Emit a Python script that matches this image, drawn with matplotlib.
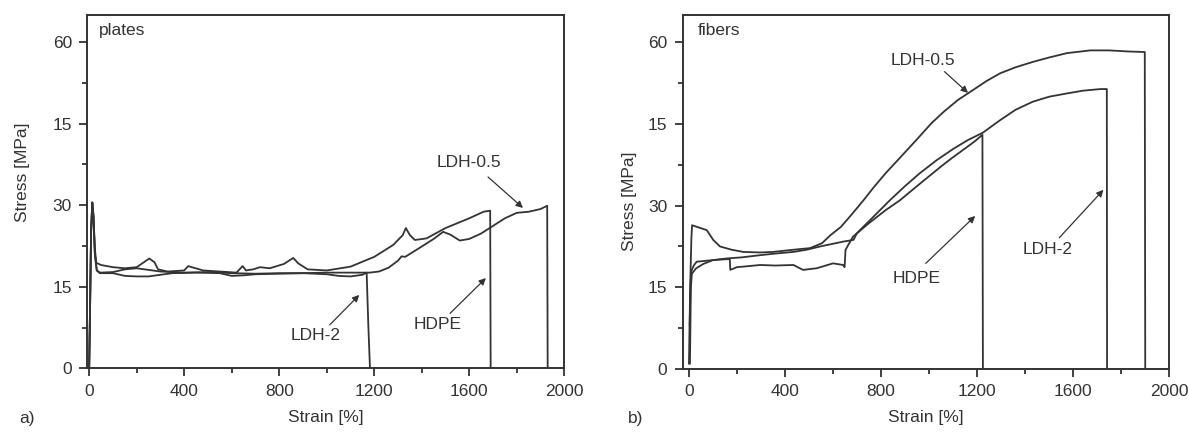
import matplotlib
matplotlib.use("Agg")
import matplotlib.pyplot as plt
from matplotlib.ticker import MultipleLocator, FixedLocator, FixedFormatter

plt.rcParams["font.family"] = ["Liberation Sans", "DejaVu Sans"]

INK = "#333333"
FS = 12.5

# y tick labels exactly as printed in the figure
y_ticks = [0, 15, 30, 45, 60]
y_tick_labels = ["0", "15", "30", "15", "60"]
x_ticks = [0, 400, 800, 1200, 1600, 2000]

# ---- a) plates ----
plates_hdpe_x = [0, 4, 8, 13, 18, 24, 30, 50, 100, 150, 200, 230, 253, 275, 290, 330, 400, 417, 440,
                 480, 550, 620, 646, 660, 690, 719, 760, 820, 859, 880, 920, 1000, 1100, 1200, 1280,
                 1320, 1333, 1350, 1371, 1420, 1500, 1600, 1660, 1688, 1690]
plates_hdpe_y = [0, 12, 25, 30.5, 28, 22, 19.4, 19.0, 18.6, 18.4, 18.6, 19.5, 20.2, 19.5, 18.2, 17.8,
                 18.0, 18.8, 18.5, 18.0, 17.8, 17.6, 18.8, 18.0, 18.2, 18.6, 18.4, 19.2, 20.3, 19.3,
                 18.2, 18.0, 18.7, 20.5, 22.7, 24.5, 25.8, 24.5, 23.6, 23.9, 25.8, 27.6, 28.8, 29.0, 0]

plates_ldh2_x = [0, 4, 8, 13, 18, 24, 32, 45, 100, 150, 200, 300, 400, 500, 600, 700, 800, 900, 1000,
                 1050, 1100, 1150, 1168, 1175, 1182]
plates_ldh2_y = [0, 12, 25, 30.5, 28, 21, 18.0, 17.6, 17.7, 18.2, 18.4, 17.8, 17.6, 17.7, 17.5, 17.4,
                 17.5, 17.5, 17.3, 17.0, 16.9, 17.2, 17.6, 8, 0]

plates_ldh05_x = [0, 4, 8, 13, 18, 24, 32, 45, 100, 150, 200, 250, 300, 350, 450, 550, 600, 650, 700,
                  800, 900, 1000, 1100, 1180, 1220, 1260, 1300, 1315, 1330, 1400, 1450, 1490, 1520,
                  1560, 1600, 1650, 1700, 1750, 1800, 1850, 1900, 1928, 1930]
plates_ldh05_y = [0, 12, 25, 30.5, 28, 21, 18.0, 17.5, 17.5, 17.0, 16.9, 16.9, 17.2, 17.5, 17.6, 17.5,
                  17.0, 17.1, 17.3, 17.4, 17.5, 17.6, 17.6, 17.6, 17.8, 18.5, 19.8, 20.6, 20.5, 22.4,
                  23.8, 25.1, 24.6, 23.5, 23.8, 24.8, 26.2, 27.6, 28.6, 28.8, 29.3, 29.9, 0]

# ---- b) fibers ----
fibers_ldh05_x = [0, 5, 10, 13, 40, 74, 101, 129, 178, 226, 296, 350, 435, 504, 554, 590, 633, 680,
                  727, 770, 820, 883, 950, 1009, 1060, 1120, 1182, 1240, 1296, 1360, 1433, 1500, 1574,
                  1671, 1750, 1830, 1898, 1900]
fibers_ldh05_y = [1, 15, 24, 26.4, 26.0, 25.5, 23.7, 22.5, 21.9, 21.5, 21.4, 21.5, 21.9, 22.2, 23.1,
                  24.6, 26.1, 28.5, 31.0, 33.4, 36.0, 39.0, 42.2, 45.1, 47.2, 49.4, 51.2, 52.9, 54.3,
                  55.4, 56.4, 57.2, 58.0, 58.5, 58.5, 58.3, 58.2, 0]

fibers_ldh2_x = [3, 6, 10, 20, 32, 100, 157, 220, 296, 360, 435, 490, 546, 600, 643, 685, 699, 712,
                 760, 837, 900, 960, 1030, 1100, 1160, 1224, 1296, 1360, 1433, 1500, 1574, 1640, 1713,
                 1740, 1741]
fibers_ldh2_y = [8, 15, 18.0, 19.0, 19.7, 20.0, 20.3, 20.5, 20.9, 21.2, 21.5, 21.9, 22.5, 23.0, 23.4,
                 23.7, 24.9, 25.5, 27.6, 31.0, 33.6, 35.9, 38.3, 40.4, 42.0, 43.4, 45.7, 47.6, 49.1,
                 50.0, 50.6, 51.1, 51.4, 51.4, 0]

fibers_hdpe_x = [4, 8, 12, 30, 60, 100, 170, 172, 200, 226, 296, 360, 435, 475, 532, 600, 642, 648,
                 652, 683, 750, 820, 879, 950, 1000, 1050, 1100, 1150, 1190, 1222, 1224]
fibers_hdpe_y = [1, 15, 17.5, 18.5, 19.3, 20.0, 20.2, 18.2, 18.7, 18.8, 19.1, 19.0, 19.1, 18.2, 18.5,
                 19.4, 19.1, 18.7, 21.9, 24.3, 26.8, 29.2, 31.0, 33.6, 35.4, 37.2, 38.9, 40.5, 41.8,
                 43.0, 0]


def style_axes(ax, xmin):
    ax.set_xlim(xmin, 2000)
    ax.set_ylim(0, 65)
    ax.xaxis.set_major_locator(FixedLocator(x_ticks))
    ax.xaxis.set_minor_locator(MultipleLocator(200))
    ax.yaxis.set_major_locator(FixedLocator(y_ticks))
    ax.yaxis.set_major_formatter(FixedFormatter(y_tick_labels))
    ax.yaxis.set_minor_locator(MultipleLocator(7.5))
    ax.tick_params(which="major", direction="out", length=6, width=1.3, colors=INK,
                   labelsize=FS, labelcolor=INK, pad=5)
    ax.tick_params(which="minor", direction="out", length=3.5, width=1.3, colors=INK)
    for sp in ax.spines.values():
        sp.set_linewidth(1.4)
        sp.set_color(INK)
    ax.set_xlabel("Strain [%]", fontsize=FS, color=INK, labelpad=8)
    ax.set_ylabel("Stress [MPa]", fontsize=FS, color=INK)


def note(ax, text, xy, xytext, textpos):
    ax.annotate("", xy=xy, xytext=xytext,
                arrowprops=dict(arrowstyle="-|>", color=INK, lw=0.9, mutation_scale=10,
                                shrinkA=0, shrinkB=0))
    ax.text(textpos[0], textpos[1], text, fontsize=FS, color=INK, ha="center", va="center")


fig = plt.figure(figsize=(11.89, 4.32), dpi=100)
ax1 = fig.add_axes([0.0734, 0.1475, 0.4012, 0.8178])
ax2 = fig.add_axes([0.5742, 0.1458, 0.4092, 0.8195])

lw = 1.3
ax1.plot(plates_hdpe_x, plates_hdpe_y, color=INK, lw=lw)
ax1.plot(plates_ldh2_x, plates_ldh2_y, color=INK, lw=lw)
ax1.plot(plates_ldh05_x, plates_ldh05_y, color=INK, lw=lw)
style_axes(ax1, -8)
ax1.yaxis.set_label_coords(-0.12, 0.556)
ax1.text(0.025, 0.955, "plates", transform=ax1.transAxes, fontsize=FS, color=INK,
         ha="left", va="center")
note(ax1, "LDH-0.5", (1826, 29.5), (1679, 35.2), (1600, 37.8))
note(ax1, "LDH-2", (1137, 13.5), (1013, 8.0), (955, 6.1))
note(ax1, "HDPE", (1670, 16.6), (1519, 10.1), (1468, 8.0))

ax2.plot(fibers_ldh05_x, fibers_ldh05_y, color=INK, lw=lw)
ax2.plot(fibers_ldh2_x, fibers_ldh2_y, color=INK, lw=lw)
ax2.plot(fibers_hdpe_x, fibers_hdpe_y, color=INK, lw=lw)
style_axes(ax2, -26)
ax2.yaxis.set_label_coords(-0.095, 0.475)
ax2.text(0.03, 0.955, "fibers", transform=ax2.transAxes, fontsize=FS, color=INK,
         ha="left", va="center")
note(ax2, "LDH-0.5", (1162, 50.7), (1064, 54.6), (974, 56.7))
note(ax2, "HDPE", (1192, 28.1), (986, 19.4), (950, 16.7))
note(ax2, "LDH-2", (1726, 32.9), (1542, 24.1), (1495, 21.9))

fig.text(27 / 1189, 1 - 419 / 432, "a)", fontsize=FS, color=INK, ha="center", va="center")
fig.text(636 / 1189, 1 - 419 / 432, "b)", fontsize=FS, color=INK, ha="center", va="center")

fig.savefig("out.png", dpi=100)
